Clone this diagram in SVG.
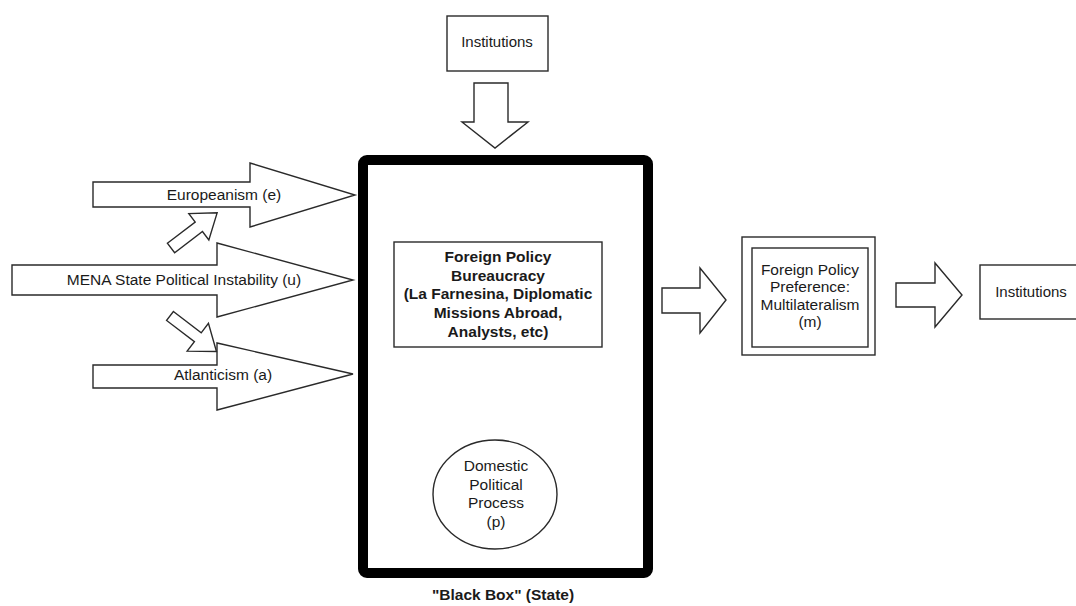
<svg xmlns="http://www.w3.org/2000/svg" width="1076" height="606" viewBox="0 0 1076 606">
<style>
  .shape { fill: #ffffff; stroke: #2a2a2a; stroke-width: 1.4; stroke-linejoin: miter; }
  .t { font-family: "Liberation Sans", Arial, sans-serif; font-size: 15.5px; fill: #1a1a1a; text-anchor: middle; }
  .s { font-size: 15px; }
  .b { font-weight: bold; font-size: 15.5px; }
</style>
<rect x="0" y="0" width="1076" height="606" fill="#ffffff"/>

<g id="node-institutions-top">
  <rect class="shape" x="447" y="16" width="101" height="55"/>
  <text class="t s" x="497" y="47">Institutions</text>
</g>

<g id="node-europeanism">
  <polygon class="shape" points="93,182 250,182 250,163 355,195 250,227 250,207 93,207"/>
  <text class="t" x="224" y="200">Europeanism (e)</text>
</g>

<g id="node-mena">
  <polygon class="shape" points="12,265 217,265 217,243 353,280 217,317 217,295 12,295"/>
  <text class="t" x="184" y="285">MENA State Political Instability (u)</text>
</g>

<g id="node-atlanticism">
  <polygon class="shape" points="93,365 217,365 217,343 353,374 217,410 217,388 93,388"/>
  <text class="t" x="223" y="380">Atlanticism (a)</text>
</g>

<g id="node-black-box">
  <rect x="363" y="160" width="285" height="413" rx="4" ry="4" fill="#ffffff" stroke="#000000" stroke-width="10"/>
  <text class="t b" x="503" y="600">"Black Box" (State)</text>
</g>

<g id="node-bureaucracy">
  <rect class="shape" x="394" y="242" width="208" height="105"/>
  <text class="t b" x="498" y="262">Foreign Policy</text>
  <text class="t b" x="498" y="280.7">Bureaucracy</text>
  <text class="t b" x="498" y="299.4">(La Farnesina, Diplomatic</text>
  <text class="t b" x="498" y="318.1">Missions Abroad,</text>
  <text class="t b" x="498" y="336.8">Analysts, etc)</text>
</g>

<g id="node-domestic">
  <ellipse class="shape" cx="495" cy="494.5" rx="62" ry="54.5"/>
  <text class="t" x="496" y="471">Domestic</text>
  <text class="t" x="496" y="489.5">Political</text>
  <text class="t" x="496" y="508">Process</text>
  <text class="t" x="496" y="527">(p)</text>
</g>

<g id="node-preference">
  <rect class="shape" x="742" y="237" width="133" height="118"/>
  <rect class="shape" x="752" y="248" width="116" height="99"/>
  <text class="t" x="810" y="275">Foreign Policy</text>
  <text class="t" x="810" y="292.4">Preference:</text>
  <text class="t" x="810" y="309.8">Multilateralism</text>
  <text class="t" x="810" y="327.2">(m)</text>
</g>

<g id="node-institutions-right">
  <rect class="shape" x="980" y="265" width="110" height="54"/>
  <text class="t s" x="1031" y="297">Institutions</text>
</g>

<g id="connectors">
  <polygon id="arrow-institutions-down" class="shape" points="474,83 508,83 508,122 528,122 495,148 462,122 474,122"/>
  <polygon id="arrow-up-right" class="shape" transform="translate(171,248) rotate(-37.3)" points="0,-6 35,-6 35,-16.5 58,0 35,16.5 35,6 0,6"/>
  <polygon id="arrow-down-right" class="shape" transform="translate(170,316) rotate(37.4)" points="0,-5.6 35,-5.6 35,-17.5 58.5,0 35,17.5 35,5.6 0,5.6"/>
  <polygon id="arrow-to-preference" class="shape" points="662,288 700,288 700,268 726,300 700,333 700,313 662,313"/>
  <polygon id="arrow-to-institutions" class="shape" points="896,283 935,283 935,263 962,295 935,327 935,307 896,307"/>
</g>
</svg>
